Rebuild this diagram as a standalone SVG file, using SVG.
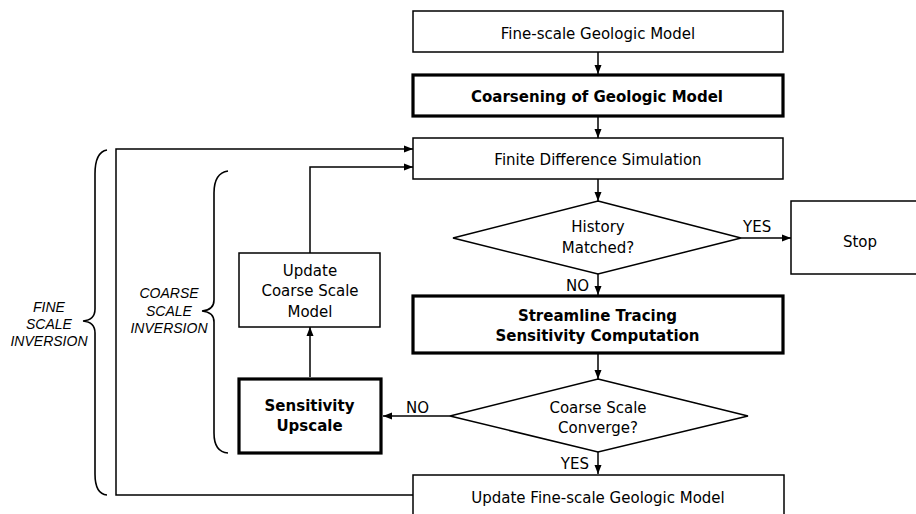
<svg xmlns="http://www.w3.org/2000/svg" width="916" height="514" viewBox="0 0 916 514">
<style>
.box{fill:#fff;stroke:#000;stroke-width:1.5}
.thick{fill:#fff;stroke:#000;stroke-width:3.2}
.t{font-family:"DejaVu Sans",Verdana,sans-serif;font-size:15px;fill:#000;text-anchor:middle}
.b{font-weight:bold}
.lab{font-family:"DejaVu Sans",Verdana,sans-serif;font-size:15px;fill:#000}
.it{font-family:"Liberation Sans",Arial,sans-serif;font-size:14px;font-style:italic;fill:#000;text-anchor:middle}
.c{fill:none;stroke:#000;stroke-width:1.5}
.br{fill:none;stroke:#000;stroke-width:1.6}
</style>
<defs>
<marker id="ah" markerUnits="userSpaceOnUse" markerWidth="10" markerHeight="8" refX="9" refY="4" orient="auto">
<path d="M0,0.5 L9,4 L0,7.5 Z" fill="#000"/>
</marker>
</defs>
<g id="connectors">
<line class="c" x1="598" y1="52" x2="598" y2="74" marker-end="url(#ah)"/>
<line class="c" x1="598" y1="116" x2="598" y2="138" marker-end="url(#ah)"/>
<line class="c" x1="598" y1="179" x2="598" y2="201" marker-end="url(#ah)"/>
<line class="c" x1="741" y1="238" x2="791" y2="238" marker-end="url(#ah)"/>
<line class="c" x1="598" y1="274" x2="598" y2="295" marker-end="url(#ah)"/>
<line class="c" x1="598" y1="354" x2="598" y2="379" marker-end="url(#ah)"/>
<line class="c" x1="450" y1="416" x2="383" y2="416" marker-end="url(#ah)"/>
<line class="c" x1="598" y1="452" x2="598" y2="474" marker-end="url(#ah)"/>
<line class="c" x1="310" y1="377" x2="310" y2="327" marker-end="url(#ah)"/>
<polyline class="c" points="310,253 310,167 413,167" marker-end="url(#ah)"/>
<polyline class="c" points="413,495 116,495 116,149 413,149" marker-end="url(#ah)"/>
</g>
<g id="fine-model">
<rect class="box" x="413" y="11" width="370" height="41"/>
<text class="t" x="598" y="38.5">Fine-scale Geologic Model</text>
</g>
<g id="coarsening">
<rect class="thick" x="413" y="75" width="370" height="41"/>
<text class="t b" x="597" y="101.5">Coarsening of Geologic Model</text>
</g>
<g id="fd-sim">
<rect class="box" x="413" y="138" width="370" height="41"/>
<text class="t" x="598" y="165">Finite Difference Simulation</text>
</g>
<g id="history">
<polygon class="box" points="598,201 741,238 598,274 453,238"/>
<text class="t" x="598" y="231.5">History</text>
<text class="t" x="598" y="253">Matched?</text>
</g>
<g id="stop">
<rect class="box" x="791" y="201" width="140" height="73"/>
<text class="t" x="860" y="246.5">Stop</text>
</g>
<g id="streamline">
<rect class="thick" x="413" y="296" width="370" height="57"/>
<text class="t b" x="597.5" y="321">Streamline Tracing</text>
<text class="t b" x="597.5" y="340.5">Sensitivity Computation</text>
</g>
<g id="converge">
<polygon class="box" points="598,379 748,416 598,452 450,416"/>
<text class="t" x="598" y="412.5">Coarse Scale</text>
<text class="t" x="598" y="432.5">Converge?</text>
</g>
<g id="update-fine">
<rect class="box" x="413" y="475" width="371" height="50"/>
<text class="t" x="598" y="503">Update Fine-scale Geologic Model</text>
</g>
<g id="update-coarse">
<rect class="box" x="239" y="253" width="141" height="74"/>
<text class="t" x="310" y="275.5">Update</text>
<text class="t" x="310" y="296">Coarse Scale</text>
<text class="t" x="310" y="316.5">Model</text>
</g>
<g id="upscale">
<rect class="thick" x="239" y="379" width="142" height="74"/>
<text class="t b" x="309.5" y="410.5">Sensitivity</text>
<text class="t b" x="309.5" y="431">Upscale</text>
</g>
<g id="labels">
<text class="lab" x="743" y="231.5">YES</text>
<text class="lab" x="589" y="290.5" text-anchor="end">NO</text>
<text class="lab" x="406" y="412.5">NO</text>
<text class="lab" x="589" y="469" text-anchor="end">YES</text>
</g>
<g id="fine-brace">
<path class="br" d="M107,150 Q95,152 95,174 L95,309 Q95,320 83,321 Q95,322 95,333 L95,474 Q95,494 107,495"/>
<text class="it" x="49" y="311.5">FINE</text>
<text class="it" x="49" y="329">SCALE</text>
<text class="it" x="49" y="346">INVERSION</text>
</g>
<g id="coarse-brace">
<path class="br" d="M228,171 Q214,173 214,193 L214,300 Q214,310 202,311 Q214,312 214,322 L214,433 Q214,452 228,453"/>
<text class="it" x="169" y="298">COARSE</text>
<text class="it" x="169" y="315.5">SCALE</text>
<text class="it" x="169" y="333">INVERSION</text>
</g>
</svg>
